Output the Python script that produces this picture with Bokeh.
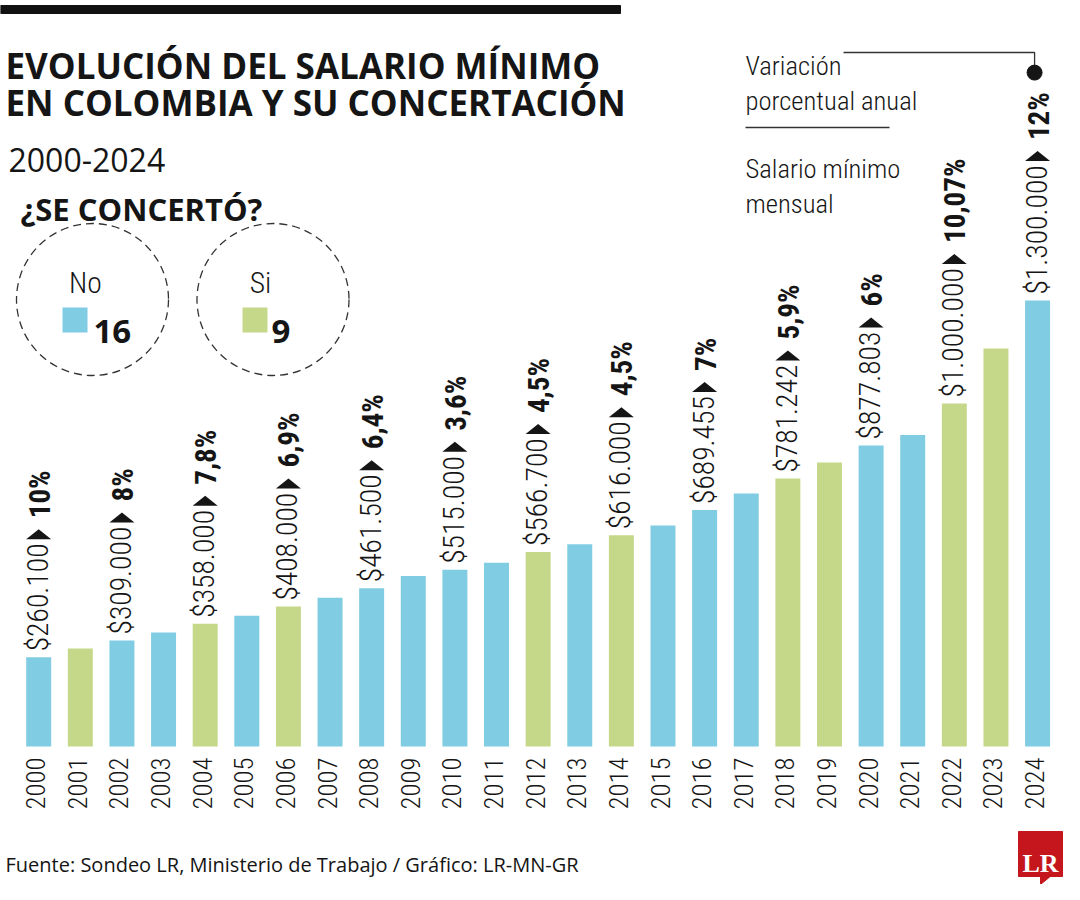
import math
import glob
import os
from bokeh.plotting import figure
from bokeh.models import Range1d, ColumnDataSource
from bokeh.core.properties import value
from bokeh.embed import file_html
from bokeh.resources import INLINE

# ---------------- data ----------------
years = list(range(2000, 2025))
salario = [260100, 286000, 309000, 332000, 358000, 381500, 408000, 433700,
           461500, 496900, 515000, 535600, 566700, 589500, 616000, 644350,
           689455, 737717, 781242, 828116, 877803, 908526, 1000000, 1160000,
           1300000]
concerto = ["No", "Si", "No", "No", "Si", "No", "Si", "No", "No", "No", "No",
            "No", "Si", "No", "Si", "No", "No", "No", "Si", "Si", "No", "No",
            "Si", "Si", "No"]
label_years = [2000, 2002, 2004, 2006, 2008, 2010, 2012, 2014, 2016, 2018,
               2020, 2022, 2024]
variacion = [10, 8, 7.8, 6.9, 6.4, 3.6, 4.5, 4.5, 7, 5.9, 6, 10.07, 12]

title_lines = ["EVOLUCIÓN DEL SALARIO MÍNIMO", "EN COLOMBIA Y SU CONCERTACIÓN"]
subtitle = "2000-2024"
question = "¿SE CONCERTÓ?"
legend_lines = ["Variación", "porcentual anual", "Salario mínimo", "mensual"]
source_txt = "Fuente: Sondeo LR, Ministerio de Trabajo / Gráfico: LR-MN-GR"

# ---------------- fonts (measured when possible) ----------------
FONT_DIRS = ["/usr/share/fonts", "/usr/local/share/fonts",
             os.path.expanduser("~/.fonts"),
             os.path.expanduser("~/.local/share/fonts")]


def find_font(patterns):
    for pat in patterns:
        for d in FONT_DIRS:
            hits = sorted(glob.glob(os.path.join(d, "**", pat), recursive=True))
            if hits:
                return hits[0]
    return None


FALLBACK = {c: 0.562 for c in "0123456789$"}
FALLBACK.update({".": 0.26, ",": 0.2, " ": 0.25, "%": 0.73, "-": 0.28})


def measurer(path, scale=1.0):
    if path:
        try:
            from PIL import ImageFont
            f = ImageFont.truetype(path, 100)
            f.getlength("0")
            return lambda s, size: f.getlength(s) * size / 100.0 * scale
        except Exception:
            pass
    return lambda s, size: sum(FALLBACK.get(c, 0.55) for c in s) * size * scale


light_path = find_font(["RobotoCondensed-Light.ttf", "RobotoCondensed-Regular.ttf"])
bold_path = find_font(["RobotoCondensed-Bold.ttf"])
if light_path:
    LIGHT = "'Roboto Condensed Light', 'Roboto Condensed', Roboto, sans-serif"
    BOLDF = "'Roboto Condensed', Roboto, sans-serif"
else:
    light_path = find_font(["Roboto-Light.ttf", "Roboto-Regular.ttf", "Roboto*.ttf"])
    bold_path = find_font(["Roboto-Bold.ttf"])
    LIGHT = "'Roboto Light', Roboto, sans-serif"
    BOLDF = "Roboto, sans-serif"
m_light = measurer(light_path)
m_bold = measurer(bold_path or light_path, 1.0 if bold_path else 1.03)

SANS = "'Open Sans', 'Liberation Sans', sans-serif"
SERIF = "'Liberation Serif', 'DejaVu Serif', serif"

# ---------------- style / layout ----------------
W, H = 1064, 884
BLUE, GREEN = "#7FCCE3", "#C5D889"
INK = "#151515"

X0 = 38.2          # px centre of first bar
STEP = 41.62       # px per year
BASE_Y = 746.0     # px (from top) of the bar baseline
PPU = 343.0 / 1e6  # px per peso

SAL_FS = min(32.0, 108.0 / m_light("$260.100", 1.0))
PCT_FS = min(33.0, 48.0 / m_bold("10%", 1.0))
YEAR_FS = min(30.0, 52.0 / m_light("2000", 1.0))
LEG_FS = min(31.0, 172.0 / m_light("porcentual anual", 1.0))
GAP0, GAP1, ARROW_H, GAP2 = 6, 4, 10, 11


def fmt_sal(v):
    return "$" + f"{v:,}".replace(",", ".")


def fmt_pct(v):
    return f"{v:g}".replace(".", ",") + "%"


# ---------------- figure ----------------
p = figure(width=W, height=H, x_range=Range1d(0, W), y_range=Range1d(H, 0),
           output_backend="svg", toolbar_location=None, min_border=0,
           x_axis_type=None, y_axis_type=None, outline_line_color=None,
           background_fill_color="white", border_fill_color="white")

x_start = years[0] - X0 / STEP
p.extra_x_ranges = {"yrs": Range1d(x_start, x_start + W / STEP)}
p.extra_y_ranges = {"sal": Range1d(-(H - BASE_Y) / PPU, BASE_Y / PPU)}
R = dict(x_range_name="yrs", y_range_name="sal")

# bars
colors = [BLUE if c == "No" else GREEN for c in concerto]
src = ColumnDataSource(dict(year=years, sal=salario, color=colors,
                            ylab=[str(y) for y in years]))
p.vbar(x="year", top="sal", bottom=0, width=0.6, fill_color="color",
       line_color=None, source=src, **R)

# year labels
p.text(x="year", y=0, text="ylab", source=src, angle=math.pi / 2,
       text_align="right", text_baseline="middle", y_offset=11, x_offset=-3,
       text_font=value(LIGHT), text_font_size=f"{YEAR_FS:.1f}px",
       text_color=INK, **R)

# value labels
sal_of = dict(zip(years, salario))
lab_sal = [sal_of[y] for y in label_years]
sal_txt = [fmt_sal(v) for v in lab_sal]
pct_txt = [fmt_pct(v) for v in variacion]
ws = [m_light(s, SAL_FS) for s in sal_txt]
wp = [m_bold(s, PCT_FS) for s in pct_txt]
pct_off = [-(GAP0 + w + GAP1 + ARROW_H + GAP2) for w in ws]
lsrc = ColumnDataSource(dict(x=label_years, y=lab_sal, st=sal_txt, pt=pct_txt,
                             po=pct_off))
p.text(x="x", y="y", text="st", source=lsrc, angle=math.pi / 2,
       text_align="left", text_baseline="middle", y_offset=-GAP0, x_offset=-1,
       text_font=value(LIGHT), text_font_size=f"{SAL_FS:.1f}px",
       text_color=INK, **R)
p.text(x="x", y="y", text="pt", source=lsrc, angle=math.pi / 2,
       text_align="left", text_baseline="middle", y_offset="po", x_offset=1,
       text_font=value(BOLDF), text_font_style="bold",
       text_font_size=f"{PCT_FS:.1f}px", text_color=INK, **R)

# arrows
axs, ays = [], []
for x, v, w in zip(label_years, lab_sal, ws):
    b = v + (GAP0 + w + GAP1) / PPU
    axs.append([x - 0.3, x + 0.3, x])
    ays.append([b, b, b + ARROW_H / PPU])
p.patches(axs, ays, fill_color=INK, line_color=None, **R)

# dot of the last label + leader
last_val = lab_sal[-1] + (GAP0 + ws[-1] + GAP1 + ARROW_H + GAP2 + wp[-1] + 12 + 7.5) / PPU
dot_x_px = X0 + (label_years[-1] - years[0]) * STEP - 3
dot_y_px = BASE_Y - last_val * PPU
p.line([843, dot_x_px, dot_x_px], [52, 52, dot_y_px], line_color="#333",
       line_width=1.3)
p.scatter([dot_x_px], [dot_y_px], size=15, color=INK)

# legend (top right)
for txt, yb in zip(legend_lines, [65, 100, 168, 203]):
    p.text(x=[745], y=[yb], text=[txt], text_font=value(LIGHT),
           text_font_size=f"{LEG_FS:.1f}px", text_baseline="alphabetic",
           text_align="left", text_color=INK)
p.line([745, 889], [127, 127], line_color="#333", line_width=1.3)

# top bar and titles
p.quad(left=0, right=620, top=5, bottom=13, color="#111111")
for txt, yb in zip(title_lines, [65, 102]):
    p.text(x=[5], y=[yb], text=[txt], text_font=value(SANS),
           text_font_style="bold", text_font_size="35px",
           text_baseline="alphabetic", text_color=INK)
p.text(x=[8], y=[159], text=[subtitle], text_font=value(SANS),
       text_font_size="32px", text_baseline="alphabetic", text_color=INK)
p.text(x=[20], y=[208], text=[question], text_font=value(SANS),
       text_font_style="bold", text_font_size="31px",
       text_baseline="alphabetic", text_color=INK)

# circles legend
n_no = concerto.count("No")
n_si = concerto.count("Si")
p.scatter([92, 272.5], [299, 299], size=152, marker="circle", fill_color=None,
          line_color="#333", line_dash="8 5", line_width=1.3)
p.text(x=[85, 260], y=[282, 282], text=["No", "Si"], text_font=value(LIGHT),
       text_font_size=f"{LEG_FS + 3:.1f}px", text_align="center",
       text_baseline="alphabetic", text_color=INK)
p.quad(left=[62, 242], right=[87, 267], top=[307, 307], bottom=[332, 332],
       fill_color=[BLUE, GREEN], line_color=None)
p.text(x=[93, 271], y=[331, 331], text=[str(n_no), str(n_si)],
       text_font=value(SANS), text_font_style="bold", text_font_size="33px",
       text_baseline="alphabetic", text_color=INK)

# footer
p.text(x=[5], y=[864], text=[source_txt], text_font=value(SANS),
       text_font_size="20px", text_baseline="alphabetic", text_color=INK)

# LR logo
p.quad(left=1018, right=1062, top=831, bottom=876, color="#C4161C")
p.patch([1040, 1051, 1040], [875, 875, 884], color="#C4161C")
p.text(x=[1040], y=[863], text=["LR"], text_font=value(SERIF),
       text_font_style="bold", text_font_size="26px", text_align="center",
       text_baseline="alphabetic", text_color="white")

open("out.html", "w").write(file_html(p, INLINE))
